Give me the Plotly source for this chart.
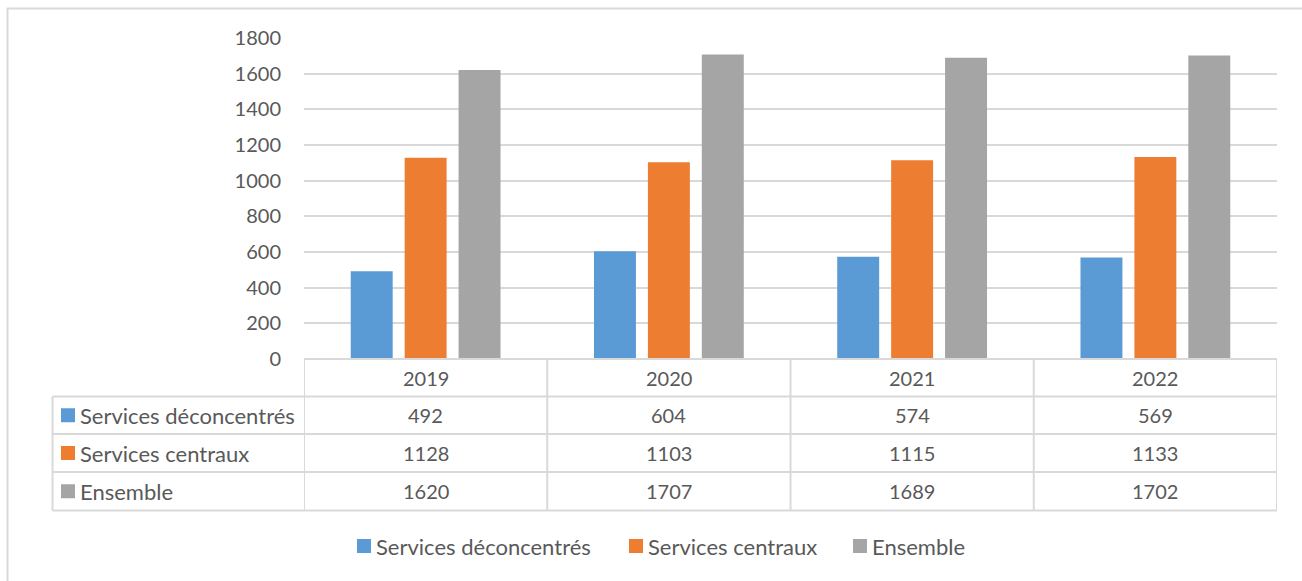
import plotly.graph_objects as go

years = ["2019", "2020", "2021", "2022"]
series_names = ["Services déconcentrés", "Services centraux", "Ensemble"]
deconcentres = [492, 604, 574, 569]
centraux = [1128, 1103, 1115, 1133]
ensemble = [1620, 1707, 1689, 1702]
y_ticks = [0, 200, 400, 600, 800, 1000, 1200, 1400, 1600, 1800]

colors = ["#5B9BD5", "#ED7D31", "#A5A5A5"]
txt = "#595959"
line = "#D9D9D9"
font = "Lato"
num_size = 20
lab_size = 22
W, H = 1302, 581


def px(x):
    return x / W


def py(y):
    return 1 - y / H


values = [deconcentres, centraux, ensemble]

fig = go.Figure()
for name, vals, c in zip(series_names, values, colors):
    fig.add_trace(go.Bar(x=years, y=vals, name=name, marker_color=c,
                         marker_line_width=0, showlegend=False))

shapes = []
annots = []

# outer chart frame (only top/left visible)
shapes.append(dict(type="rect", xref="paper", yref="paper", x0=px(7.5), x1=px(1320),
                   y0=py(600), y1=py(8.5), line=dict(color=line, width=2)))

# data table: row boundaries in pixels
row_tops = [359, 396.5, 434, 472, 510.5]
col_edges = [-0.5, 0.5, 1.5, 2.5, 3.5]

for yy in row_tops:
    shapes.append(dict(type="line", xref="x", yref="paper", x0=-0.5, x1=3.5,
                       y0=py(yy), y1=py(yy), line=dict(color=line, width=2)))
for yy in row_tops[1:]:
    shapes.append(dict(type="line", xref="paper", yref="paper", x0=px(52.5), x1=px(304),
                       y0=py(yy), y1=py(yy), line=dict(color=line, width=2)))
for xe in col_edges:
    shapes.append(dict(type="line", xref="x", yref="paper", x0=xe, x1=xe,
                       y0=py(row_tops[0]), y1=py(row_tops[-1]), line=dict(color=line, width=2)))
shapes.append(dict(type="line", xref="paper", yref="paper", x0=px(52.5), x1=px(52.5),
                   y0=py(row_tops[1]), y1=py(row_tops[-1]), line=dict(color=line, width=2)))

# header years
hy = (row_tops[0] + row_tops[1]) / 2
for i, yr in enumerate(years):
    annots.append(dict(x=i, y=py(hy), xref="x", yref="paper", text=yr, showarrow=False,
                       xanchor="center", yanchor="middle",
                       font=dict(family=font, size=num_size, color=txt)))

# rows
for r, (name, vals, c) in enumerate(zip(series_names, values, colors)):
    cy = (row_tops[r + 1] + row_tops[r + 2]) / 2
    shapes.append(dict(type="rect", xref="paper", yref="paper", x0=px(61), x1=px(75),
                       y0=py(cy + 7), y1=py(cy - 7), fillcolor=c, line=dict(width=0)))
    annots.append(dict(x=px(78), y=py(cy), xref="paper", yref="paper", text=name,
                       showarrow=False, xanchor="left", yanchor="middle",
                       font=dict(family=font, size=lab_size, color=txt)))
    for i, v in enumerate(vals):
        annots.append(dict(x=i, y=py(cy), xref="x", yref="paper", text=str(v),
                           showarrow=False, xanchor="center", yanchor="middle",
                           font=dict(family=font, size=num_size, color=txt)))

# legend (drawn by hand, Excel style)
leg_x = [357, 629, 853]
leg_y = 546
for lx, name, c in zip(leg_x, series_names, colors):
    shapes.append(dict(type="rect", xref="paper", yref="paper", x0=px(lx), x1=px(lx + 14),
                       y0=py(leg_y + 7), y1=py(leg_y - 7), fillcolor=c, line=dict(width=0)))
    annots.append(dict(x=px(lx + 17), y=py(leg_y), xref="paper", yref="paper", text=name,
                       showarrow=False, xanchor="left", yanchor="middle",
                       font=dict(family=font, size=lab_size, color=txt)))

fig.update_layout(
    width=W, height=H,
    margin=dict(l=0, r=0, t=0, b=0, pad=0),
    paper_bgcolor="white", plot_bgcolor="white",
    barmode="group", bargap=0.335, bargroupgap=0.222,
    shapes=shapes, annotations=annots,
    xaxis=dict(domain=[px(304), px(1277)], range=[-0.5, 3.5], showticklabels=False,
               showgrid=False, zeroline=False, showline=False, fixedrange=True,
               automargin=False),
    yaxis=dict(domain=[py(359), py(38)], range=[0, 1800], tickvals=y_ticks,
               showgrid=True, gridcolor=line, gridwidth=2, zeroline=False, showline=False,
               ticklabelstandoff=22, automargin=False,
               tickfont=dict(family=font, size=num_size, color=txt), fixedrange=True),
)

fig.write_html("out.html", config={"displayModeBar": False},
               post_script="document.body.style.margin='0';")
